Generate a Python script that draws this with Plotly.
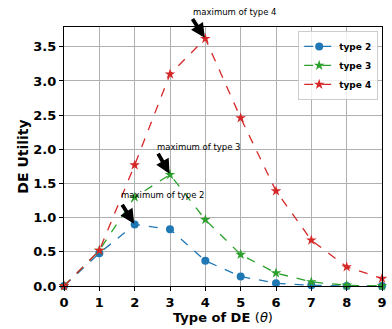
import plotly.graph_objects as go

x_vals = [0, 1, 2, 3, 4, 5, 6, 7, 8, 9]
type2 = [0.0, 0.48, 0.90, 0.83, 0.37, 0.14, 0.04, 0.01, 0.0, 0.0]
type3 = [0.0, 0.52, 1.30, 1.63, 0.97, 0.46, 0.19, 0.06, 0.01, 0.0]
type4 = [0.0, 0.52, 1.77, 3.10, 3.62, 2.46, 1.39, 0.67, 0.28, 0.11]
names = ["type 2", "type 3", "type 4"]
colors = ["#1f77b4", "#2ca02c", "#d62728"]
symbols = ["circle", "star", "star"]

fig = go.Figure()
for name, ys, c, s in zip(names, [type2, type3, type4], colors, symbols):
    fig.add_trace(go.Scatter(
        x=x_vals, y=ys, name=name, mode="lines+markers",
        line=dict(color=c, dash="dash", width=1.3),
        marker=dict(symbol=s, size=8, color=c, line=dict(width=0)),
    ))

# arrows: (point x, point y, tail x, tail y) in data units
arrow_data = [
    (4, 3.62, 3.61, 3.93),
    (3, 1.63, 2.64, 1.96),
    (2, 0.90, 1.62, 1.21),
]
# labels: (text, x data, y paper-or-data, yref)
label_data = [
    ("maximum of type 4", 3.62, 1.035, "paper"),
    ("maximum of type 3", 2.60, 1.95, "y"),
    ("maximum of type 2", 1.59, 1.25, "y"),
]
annotations = []
for px, py, tx, ty in arrow_data:
    annotations.append(dict(
        x=px, y=py, xref="x", yref="y", ax=tx, ay=ty, axref="x", ayref="y",
        text="", showarrow=True, arrowhead=2, arrowsize=0.75, arrowwidth=3.8,
        arrowcolor="black", standoff=1,
    ))
for label, lx, ly, yr in label_data:
    annotations.append(dict(
        x=lx, y=ly, xref="x", yref=yr, text=label, showarrow=False,
        xanchor="left", yanchor="bottom", borderpad=0,
        font=dict(family="DejaVu Sans", size=8.5, color="black"),
    ))

tickfont = dict(family="DejaVu Sans", size=13, color="black", weight="bold")
fig.update_layout(
    width=392, height=329,
    margin=dict(l=64, r=10, t=27, b=43),
    plot_bgcolor="white", paper_bgcolor="white",
    font=dict(family="DejaVu Sans", color="black"),
    annotations=annotations,
    legend=dict(
        x=0.988, y=0.985, xanchor="right", yanchor="top",
        bgcolor="rgba(255,255,255,0.8)", bordercolor="#cccccc", borderwidth=1,
        font=dict(family="DejaVu Sans", size=9, color="black", weight="bold"),
        tracegroupgap=0, itemwidth=30,
    ),
    xaxis=dict(
        range=[0, 9], tickmode="array", tickvals=x_vals, automargin=False,
        showgrid=True, gridcolor="#b0b0b0", gridwidth=1,
        showline=True, linecolor="black", linewidth=1.2, mirror=True,
        ticks="outside", ticklen=4, tickcolor="black", tickfont=tickfont,
        zeroline=False,
        title=dict(text="Type of DE <span style='font-weight:normal'>(<i>θ</i>)</span>",
                   standoff=2,
                   font=dict(family="DejaVu Sans", size=13, color="black", weight="bold")),
    ),
    yaxis=dict(
        range=[0, 3.79], tickmode="array", automargin=False,
        tickvals=[0, 0.5, 1.0, 1.5, 2.0, 2.5, 3.0, 3.5],
        ticktext=["0.0", "0.5", "1.0", "1.5", "2.0", "2.5", "3.0", "3.5"],
        showgrid=True, gridcolor="#b0b0b0", gridwidth=1,
        showline=True, linecolor="black", linewidth=1.2, mirror=True,
        ticks="outside", ticklen=4, tickcolor="black", tickfont=tickfont,
        zeroline=False,
        title=dict(text="DE Utility", standoff=1,
                   font=dict(family="DejaVu Sans", size=14, color="black", weight="bold")),
    ),
)
fig.update_traces(cliponaxis=False)
fig.write_html("out.html", config={"displayModeBar": False},
               post_script="document.body.style.margin='0px';document.body.style.overflow='hidden';")
